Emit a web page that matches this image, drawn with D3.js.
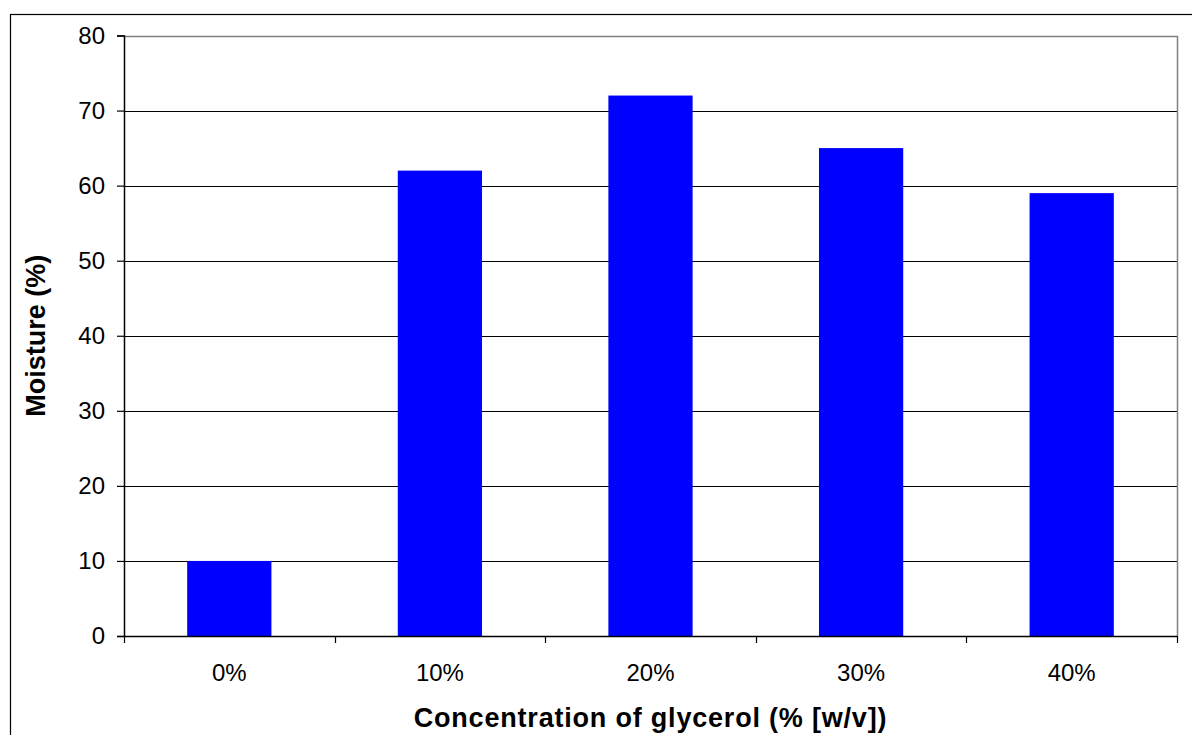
<!DOCTYPE html>
<html>
<head>
<meta charset="utf-8">
<script src="https://cdn.jsdelivr.net/npm/d3@7"></script>
<style>
  html, body { margin: 0; padding: 0; background: #fff; }
  svg { display: block; font-family: "Liberation Sans", Arial, sans-serif; }
</style>
</head>
<body>
<svg id="chart" width="1192" height="735"></svg>
<script>
// Moisture content of films by glycerol concentration
const categories = ["0%", "10%", "20%", "30%", "40%"];
const moisture = [10, 62, 72, 65, 59];
const yTicks = [0, 10, 20, 30, 40, 50, 60, 70, 80];
const xTitle = "Concentration of glycerol (% [w/v])";
const yTitle = "Moisture (%)";

const svg = d3.select("#chart");
const plot = { left: 124, top: 35.5, right: 1177, bottom: 636 };
const tickFont = 24;
const titleFont = 27;

// Outer chart-area frame
svg.append("rect")
  .attr("x", 10.5).attr("y", 14.5)
  .attr("width", 1300).attr("height", 900)
  .attr("fill", "none").attr("stroke", "#000").attr("stroke-width", 1.2);

const x = d3.scaleBand()
  .domain(categories)
  .range([plot.left, plot.right])
  .paddingInner(0.6)
  .paddingOuter(0.3);

const y = d3.scaleLinear()
  .domain([0, 80])
  .range([plot.bottom, plot.top]);

// Horizontal gridlines
svg.append("g")
  .selectAll("line")
  .data(yTicks.filter(d => d > 0 && d < 80))
  .join("line")
  .attr("x1", plot.left).attr("x2", plot.right)
  .attr("y1", d => Math.round(y(d)) + 0.5).attr("y2", d => Math.round(y(d)) + 0.5)
  .attr("stroke", "#000").attr("stroke-width", 1);

// Plot-area border (top and right)
svg.append("path")
  .attr("d", `M${plot.left},${Math.round(plot.top) + 0.5}H${plot.right + 0.5}V${plot.bottom}`)
  .attr("fill", "none").attr("stroke", "#808080").attr("stroke-width", 1.5);

// Bars
svg.append("g")
  .selectAll("rect")
  .data(moisture)
  .join("rect")
  .attr("x", (d, i) => x(categories[i]))
  .attr("y", d => y(d))
  .attr("width", x.bandwidth())
  .attr("height", d => plot.bottom - y(d))
  .attr("fill", "#0000ff");

// Y axis
const yAxis = svg.append("g")
  .attr("transform", `translate(${plot.left},0)`)
  .call(d3.axisLeft(y).tickValues(yTicks).tickSize(7).tickPadding(12));
yAxis.select(".domain").attr("stroke", "#000").attr("stroke-width", 1.5);
yAxis.selectAll(".tick line").attr("stroke", "#000").attr("stroke-width", 1.2);
yAxis.selectAll(".tick text")
  .attr("font-family", "'Liberation Sans', Arial, sans-serif")
  .attr("font-size", tickFont).attr("fill", "#000");

// X axis: ticks sit on category boundaries
const bounds = categories.map(c => x(c) - x.step() * x.paddingInner() / 2);
bounds.push(plot.right);
const xAxisG = svg.append("g")
  .attr("transform", `translate(0,${plot.bottom})`);
xAxisG.append("line")
  .attr("x1", plot.left).attr("x2", plot.right + 0.5)
  .attr("y1", 0.5).attr("y2", 0.5)
  .attr("stroke", "#000").attr("stroke-width", 1.5);
xAxisG.selectAll("line.tick")
  .data(bounds)
  .join("line")
  .attr("class", "tick")
  .attr("x1", d => Math.round(d) + 0.5).attr("x2", d => Math.round(d) + 0.5)
  .attr("y1", 0).attr("y2", 7)
  .attr("stroke", "#000").attr("stroke-width", 1.2);
xAxisG.selectAll("text")
  .data(categories)
  .join("text")
  .attr("x", d => x(d) + x.bandwidth() / 2)
  .attr("y", 45)
  .attr("text-anchor", "middle")
  .attr("font-size", tickFont).attr("fill", "#000")
  .text(d => d);

// Axis titles
svg.append("text")
  .attr("x", (plot.left + plot.right) / 2)
  .attr("y", 727)
  .attr("text-anchor", "middle")
  .attr("letter-spacing", 0.8)
  .attr("font-size", titleFont).attr("font-weight", "bold").attr("fill", "#000")
  .text(xTitle);

svg.append("text")
  .attr("transform", `translate(45,${(plot.top + plot.bottom) / 2}) rotate(-90)`)
  .attr("text-anchor", "middle")
  .attr("font-size", titleFont).attr("font-weight", "bold").attr("fill", "#000")
  .text(yTitle);
</script>
</body>
</html>
